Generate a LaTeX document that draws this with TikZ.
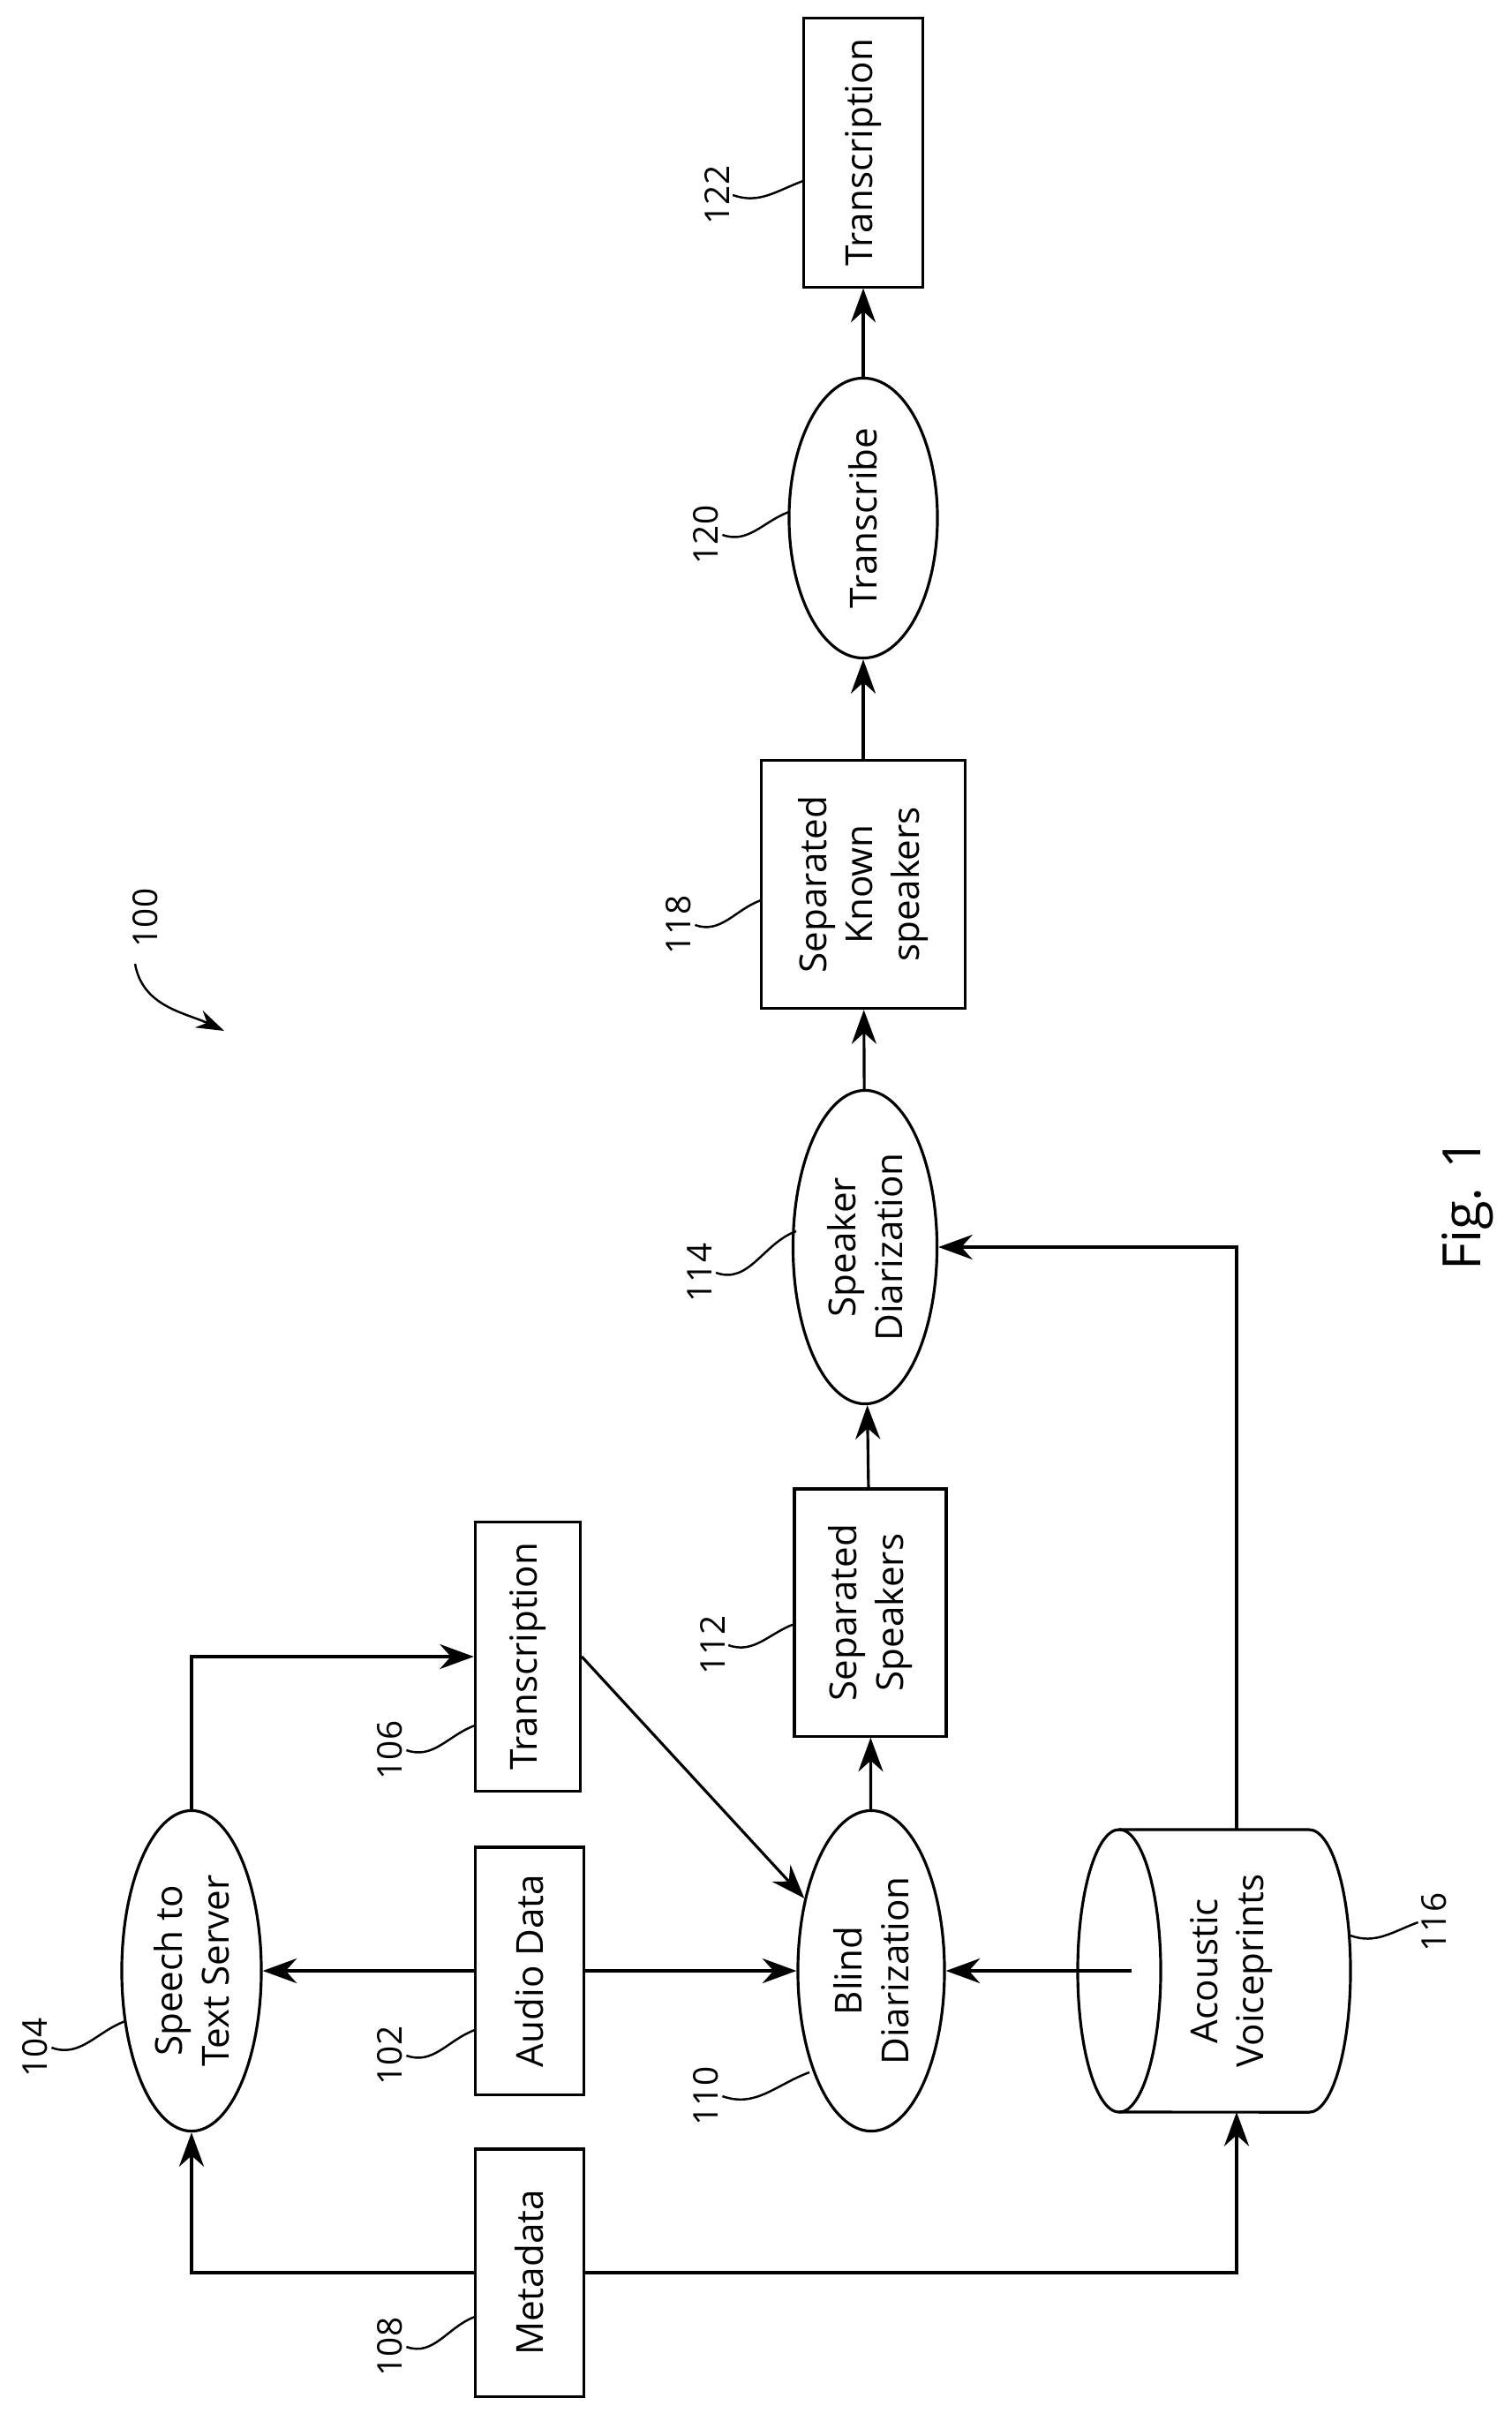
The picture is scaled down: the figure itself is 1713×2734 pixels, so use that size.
\documentclass[tikz,border=0pt]{standalone}
\usepackage{fontspec}
\setmainfont{Open Sans}
\usetikzlibrary{shapes.geometric,arrows.meta}
\tikzset{
  blk/.style={draw, line width=0.9pt, rotate=90, align=center, inner sep=0pt,
    font=\fontsize{12}{15}\selectfont},
  box/.style={blk, rectangle},
  oval/.style={blk, ellipse},
  ref/.style={rotate=90, inner sep=1pt, font=\fontsize{11}{13}\selectfont},
  flow/.style={line width=0.9pt, -{Stealth[length=11pt,width=8pt]}},
  lead/.style={line width=0.7pt}
}
\begin{document}
\begin{tikzpicture}[x=0.01cm,y=-0.01cm]
      \useasboundingbox (0,0) rectangle (1713,2734);
      % blocks
      \node[box, minimum width=2.8cm, minimum height=1.23cm] (md) at (600,2575) {Metadata};
      \node[box, minimum width=2.8cm, minimum height=1.23cm] (ad) at (600,2233) {Audio Data};
      \node[box, minimum width=3.05cm, minimum height=1.19cm] (tr1) at (598,1877) {Transcription};
      \node[oval, minimum width=3.63cm, minimum height=1.58cm] (stt) at (217,2233) {Speech to\\Text Server};
      \node[oval, minimum width=3.63cm, minimum height=1.66cm] (bd) at (987,2233) {Blind\\Diarization};
      \node[box, minimum width=2.8cm, minimum height=1.72cm] (ss) at (986,1827) {Separated\\Speakers};
      \node[oval, minimum width=3.55cm, minimum height=1.63cm] (sd) at (980,1413) {Speaker\\Diarization};
      \node[box, minimum width=2.81cm, minimum height=2.31cm] (sk) at (978,1002) {Separated\\Known\\speakers};
      \node[oval, minimum width=3.17cm, minimum height=1.68cm] (tb) at (978,587) {Transcribe};
      \node[box, minimum width=3.04cm, minimum height=1.35cm] (tr2) at (978,173) {Transcription};

      % voiceprint store
      \draw[line width=0.9pt] (1268,2233) ellipse[x radius=0.47cm, y radius=1.6cm];
      \draw[line width=0.9pt] (1268,2073) -- (1483,2073)
        arc[start angle=90, end angle=-90, x radius=0.47cm, y radius=1.6cm] -- (1268,2393);
      \node[ref, font=\fontsize{12}{15}\selectfont, align=center] (av) at (1395,2233) {Acoustic\\Voiceprints};
      \coordinate (avin) at (1282,2233);
      \coordinate (avt) at (1401,2073);
      \coordinate (avb) at (1401,2393);

      % connectors
      \draw[flow] (md) -| (stt);
      \draw[flow] (md) -| (avb);
      \draw[flow] (ad) -- (stt);
      \draw[flow] (ad) -- (bd);
      \draw[flow] (stt) |- (tr1);
      \draw[flow] (tr1.south) -- (bd);
      \draw[flow] (avin) -- (bd);
      \draw[flow] (bd) -- (ss);
      \draw[flow] (ss) -- (sd);
      \draw[flow] (avt) |- (sd);
      \draw[flow] (sd) -- (sk);
      \draw[flow] (sk) -- (tb);
      \draw[flow] (tb) -- (tr2);

      % reference numerals
      \node[ref] (n108) at (442,2659) {108};
      \node[ref] (n102) at (442,2329) {102};
      \node[ref] (n106) at (442,1983) {106};
      \node[ref] (n104) at (40,2320) {104};
      \node[ref] (n110) at (800,2375) {110};
      \node[ref] (n112) at (807,1864) {112};
      \node[ref] (n116) at (1625,2178) {116};
      \node[ref] (n114) at (793,1442) {114};
      \node[ref] (n118) at (769,1048) {118};
      \node[ref] (n120) at (800,606) {120};
      \node[ref] (n122) at (812,221) {122};
      \node[ref] (n100) at (165,1040) {100};
      \node[ref, font=\fontsize{17}{20}\selectfont] (fig) at (1663,1365) {Fig. 1};

      \coordinate (p108) at (538,2625);
      \coordinate (p102) at (538,2300);
      \coordinate (p106) at (538,1955);
      \coordinate (p104) at (142,2290);
      \coordinate (p110) at (917,2348);
      \coordinate (p112) at (900,1840);
      \coordinate (p116) at (1530,2193);
      \coordinate (p114) at (902,1395);
      \coordinate (p118) at (862,1020);
      \coordinate (p120) at (894,580);
      \coordinate (p122) at (910,205);
      \coordinate (p100) at (254,1168);

      \foreach \n in {108,102,106,104,110,112,114,118,120,122}
        \draw[lead] (n\n.south) to[out=-20,in=200] (p\n);
      \draw[lead] (n116.north) to[out=200,in=-20] (p116);
      \draw[lead, -{Stealth[length=9pt,width=6pt]}] (153,1092) to[out=-80,in=155] (p100);
    \end{tikzpicture}
\end{document}
